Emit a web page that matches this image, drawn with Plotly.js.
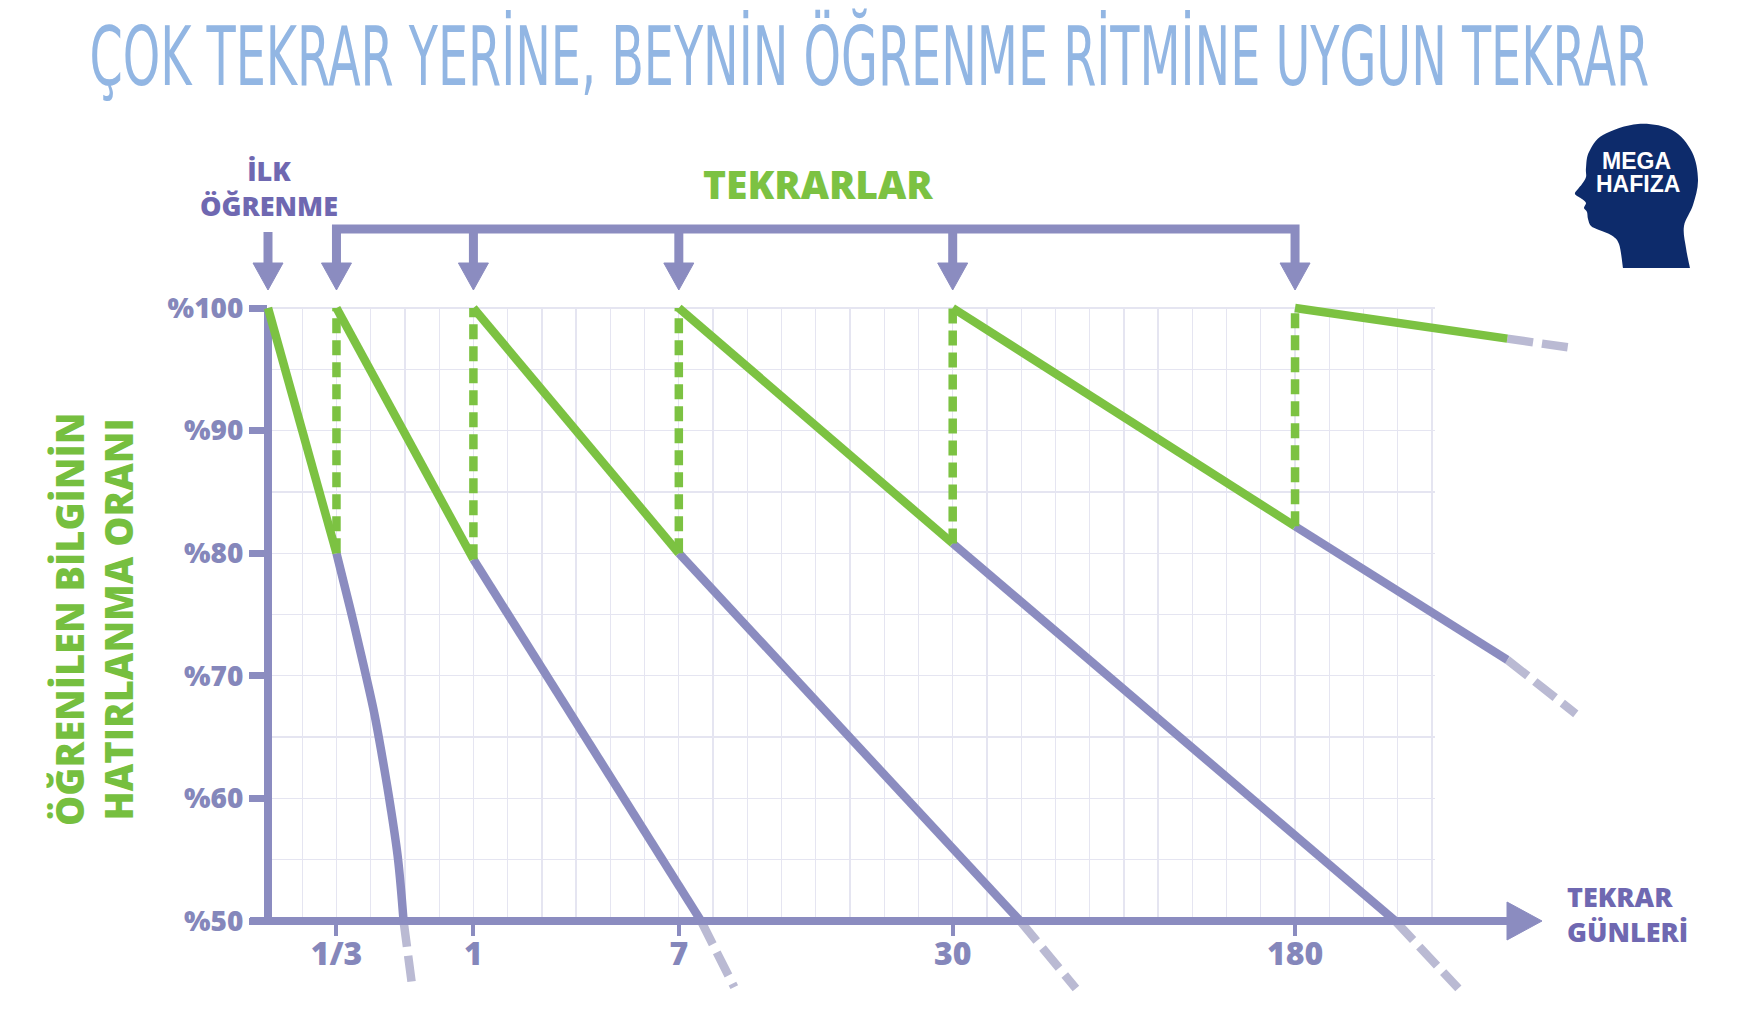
<!DOCTYPE html>
<html><head><meta charset="utf-8">
<script src="https://cdn.plot.ly/plotly-3.0.1.min.js"></script>
<style>html,body{margin:0;padding:0;background:#fff;}</style>
</head><body><div id="chart" style="width:1739px;height:1024px;"></div>
<script>
// ---------- data ----------
const sessionX = [0, 2, 6, 12, 20, 30];            // İlk öğrenme + tekrar anları (grid columns)
const reviewX = [2, 6, 12, 20, 30];
const reviewLabels = ['1/3', '1', '7', '30', '180'];
const yTickVals = [50, 60, 70, 80, 90, 100];
const yTickText = ['%50', '%60', '%70', '%80', '%90', '%100'];
const greenEndX = [2, 6, 12, 20, 30, 36.2];       // green (after study) segment ends
const greenEndY = [80, 79.5, 80, 80.8, 82.2, 97.5];
const greenTailX = [36.2, 38.2];
const greenTailY = [97.5, 96.7];
const curve0X = [2, 2.4, 2.78, 3.1, 3.33, 3.58, 3.8, 3.96];
const curve0Y = [80, 75.5, 71, 67, 63.5, 59.3, 55, 50];
const fadeEndX = [3.96, 12.65, 21.97, 32.93, 36.2];
const fadeEndY = [50, 50, 50, 50, 71.3];
const fadeTailX = [4.22, 13.62, 23.6, 34.77, 38.2];
const fadeTailY = [44.5, 44.6, 44.5, 44.5, 66.9];

// ---------- geometry / style ----------
const W = 1739, H = 1024;
const X0PX = 268, UNIT = 34.235, Y50PX = 921, PCT = 12.26;
const PX = x => x / W, PY = y => 1 - y / H;
const xOf = p => (p - X0PX) / UNIT;
const yOf = p => 50 + (Y50PX - p) / PCT;

const GREEN = '#7cc242', PURPLE = '#8b8cc0', PTXT = '#8587bb', DTXT = '#6f68b1';
const TAIL = '#babad3', GRID = '#e5e5f1', NAVY = '#0d2b6b', TITLE = '#92b6e3';
const LW = 8.5;

const traces = [];
const L2 = {xaxis: 'x2', yaxis: 'y2', mode: 'lines', hoverinfo: 'skip', showlegend: false};

// grey dashed continuation tails
for (let i = 0; i < fadeEndX.length; i++) {
  traces.push(Object.assign({}, L2, {x: [fadeEndX[i], fadeTailX[i]], y: [fadeEndY[i], fadeTailY[i]],
    line: {color: TAIL, width: LW, dash: '26px,9px'}}));
}
traces.push(Object.assign({}, L2, {x: greenTailX, y: greenTailY, line: {color: TAIL, width: LW, dash: '26px,9px'}}));

// axes lines
traces.push(Object.assign({}, L2, {x: [0, 0], y: [100, 50], line: {color: PURPLE, width: 8}}));
traces.push(Object.assign({}, L2, {x: [xOf(250), xOf(1510)], y: [50, 50], line: {color: PURPLE, width: 8}}));
traces.push(Object.assign({}, L2, {x: [xOf(1507), xOf(1542), xOf(1507), xOf(1507)], y: [yOf(902), 50, yOf(940), yOf(902)],
  fill: 'toself', fillcolor: PURPLE, line: {color: PURPLE, width: 1}}));

// purple forgetting curves
traces.push(Object.assign({}, L2, {x: curve0X, y: curve0Y, line: {color: PURPLE, width: LW, shape: 'spline', smoothing: 1}}));
for (let i = 1; i < fadeEndX.length; i++) {
  traces.push(Object.assign({}, L2, {x: [greenEndX[i], fadeEndX[i]], y: [greenEndY[i], fadeEndY[i]],
    line: {color: PURPLE, width: LW}}));
}

// green dashed review jumps
for (let i = 0; i < reviewX.length; i++) {
  traces.push(Object.assign({}, L2, {x: [reviewX[i], reviewX[i]], y: [greenEndY[i], 100],
    line: {color: GREEN, width: LW, dash: '15px,7px'}}));
}
// green retention lines
for (let i = 0; i < sessionX.length; i++) {
  traces.push(Object.assign({}, L2, {x: [sessionX[i], greenEndX[i]], y: [100, greenEndY[i]],
    line: {color: GREEN, width: LW}}));
}

// top arrows + bracket
const yBr = yOf(229), yBase = yOf(263), yTip = yOf(290), hw = 15 / UNIT;
const bx = [], by = [];
bx.push(reviewX[0], reviewX[0], reviewX[reviewX.length - 1], reviewX[reviewX.length - 1], null);
by.push(yBase, yBr, yBr, yBase, null);
for (let i = 1; i < reviewX.length - 1; i++) { bx.push(reviewX[i], reviewX[i], null); by.push(yBr, yBase, null); }
bx.push(sessionX[0], sessionX[0]); by.push(yOf(232), yBase);
traces.push(Object.assign({}, L2, {x: bx, y: by, line: {color: PURPLE, width: 9}}));
const tx = [], ty = [];
for (const s of sessionX) { tx.push(s - hw, s + hw, s, s - hw, null); ty.push(yBase, yBase, yTip, yBase, null); }
traces.push(Object.assign({}, L2, {x: tx, y: ty, fill: 'toself', fillcolor: PURPLE, line: {color: PURPLE, width: 1}}));

// ---------- head logo ----------
const headPts = [[1623,268],[1619,244],[1611,235],[1599,230],[1591,226],[1588,219],[1587,212],[1584,208],[1586,203],
  [1582,199],[1575,194],[1578,189],[1582,184],[1586,177],[1586,168],[1589,152],[1603,135],[1638,124],[1672,130],
  [1692,152],[1698,180],[1693,205],[1684,226],[1686,248],[1690,268]];
function crPath(pts) {
  let d = 'M' + PX(pts[0][0]) + ',' + PY(pts[0][1]);
  for (let i = 0; i < pts.length - 1; i++) {
    const p0 = pts[Math.max(0, i - 1)], p1 = pts[i], p2 = pts[i + 1], p3 = pts[Math.min(pts.length - 1, i + 2)];
    const c1 = [p1[0] + (p2[0] - p0[0]) / 6, p1[1] + (p2[1] - p0[1]) / 6];
    const c2 = [p2[0] - (p3[0] - p1[0]) / 6, p2[1] - (p3[1] - p1[1]) / 6];
    d += ' C' + PX(c1[0]) + ',' + PY(c1[1]) + ' ' + PX(c2[0]) + ',' + PY(c2[1]) + ' ' + PX(p2[0]) + ',' + PY(p2[1]);
  }
  return d + ' Z';
}
const shapes = [{type: 'path', xref: 'paper', yref: 'paper', path: crPath(headPts), fillcolor: NAVY, line: {width: 0}, layer: 'above'}];

// ---------- annotations ----------
const BF = (size, color, fam) => ({family: fam || 'Open Sans, Lato, sans-serif', size: size, color: color, weight: 800});
const A = (text, x, y, font, extra) => Object.assign({text: text, xref: 'paper', yref: 'paper', x: PX(x), y: PY(y),
  showarrow: false, font: font, xanchor: 'center', yanchor: 'middle'}, extra || {});
const annotations = [
  A('ÇOK TEKRAR YERİNE, BEYNİN ÖĞRENME RİTMİNE UYGUN TEKRAR', 869, 56,
    {family: 'DejaVu Sans Condensed, Liberation Sans Narrow, sans-serif', size: 82, color: TITLE}),
  A('İLK<br>ÖĞRENME', 269, 188, BF(27, DTXT)),
  A('TEKRARLAR', 818, 183, BF(39, GREEN)),
  A('TEKRAR<br>GÜNLERİ', 1565, 914, BF(27, DTXT), {xanchor: 'left', align: 'left'}),
  A('ÖĞRENİLEN BİLGİNİN<br>HATIRLANMA ORANI', 93, 620, BF(38, '#76bf3f'), {textangle: -90}),
  A('MEGA', 1636, 161, {family: 'Liberation Sans, Arial, sans-serif', size: 23, color: '#ffffff', weight: 700}),
  A('HAFIZA', 1638, 184, {family: 'Liberation Sans, Arial, sans-serif', size: 23, color: '#ffffff', weight: 700})
];

// ---------- layout ----------
const xr = 34.1, yTopPx = Y50PX - (100.1 - 50) * PCT;
const layout = {
  width: W, height: H, margin: {l: 0, r: 0, t: 0, b: 0, pad: 0},
  paper_bgcolor: '#ffffff', plot_bgcolor: 'rgba(0,0,0,0)', showlegend: false,
  xaxis: {domain: [PX(X0PX), PX(X0PX + xr * UNIT)], range: [0, xr], tickmode: 'array', tickvals: reviewX, ticktext: reviewLabels,
    ticks: 'outside', ticklen: 14, tickwidth: 4, tickcolor: PURPLE, showgrid: true, gridcolor: GRID, gridwidth: 1.3,
    minor: {dtick: 1, tick0: 0, showgrid: true, gridcolor: GRID, gridwidth: 1.3, ticks: ''},
    zeroline: false, showline: false, tickfont: BF(32, PTXT), ticklabelstandoff: -9, fixedrange: true},
  yaxis: {domain: [PY(Y50PX), PY(yTopPx)], range: [50, 100.1], tickmode: 'array', tickvals: yTickVals, ticktext: yTickText,
    ticks: 'outside', ticklen: 18, tickwidth: 7, tickcolor: PURPLE, showgrid: true, gridcolor: GRID, gridwidth: 1.3,
    minor: {dtick: 5, tick0: 50, showgrid: true, gridcolor: GRID, gridwidth: 1.3, ticks: ''},
    zeroline: false, showline: false, tickfont: BF(28, PTXT), fixedrange: true},
  xaxis2: {domain: [0, 1], range: [xOf(0), xOf(W)], anchor: 'y2', visible: false, fixedrange: true},
  yaxis2: {domain: [0, 1], range: [yOf(H), yOf(0)], anchor: 'x2', visible: false, fixedrange: true},
  shapes: shapes, annotations: annotations
};
// invisible point on the grid subplot so its axes are drawn
traces.unshift({x: [0], y: [50], xaxis: 'x', yaxis: 'y', mode: 'markers', marker: {opacity: 0}, hoverinfo: 'skip', showlegend: false});

Plotly.newPlot('chart', traces, layout, {displayModeBar: false, staticPlot: true}).then(() => {
  const el = document.querySelector('.annotation[data-index="0"] text');
  if (el) {
    const b = el.getBBox();
    const cx = b.x + b.width / 2, cy = b.y + b.height / 2;
    const sx = 1560 / b.width;
    el.setAttribute('transform', 'translate(' + cx + ',' + cy + ') scale(' + sx + ',1) translate(' + (-cx) + ',' + (-cy) + ')');
  }
});
</script></body></html>
